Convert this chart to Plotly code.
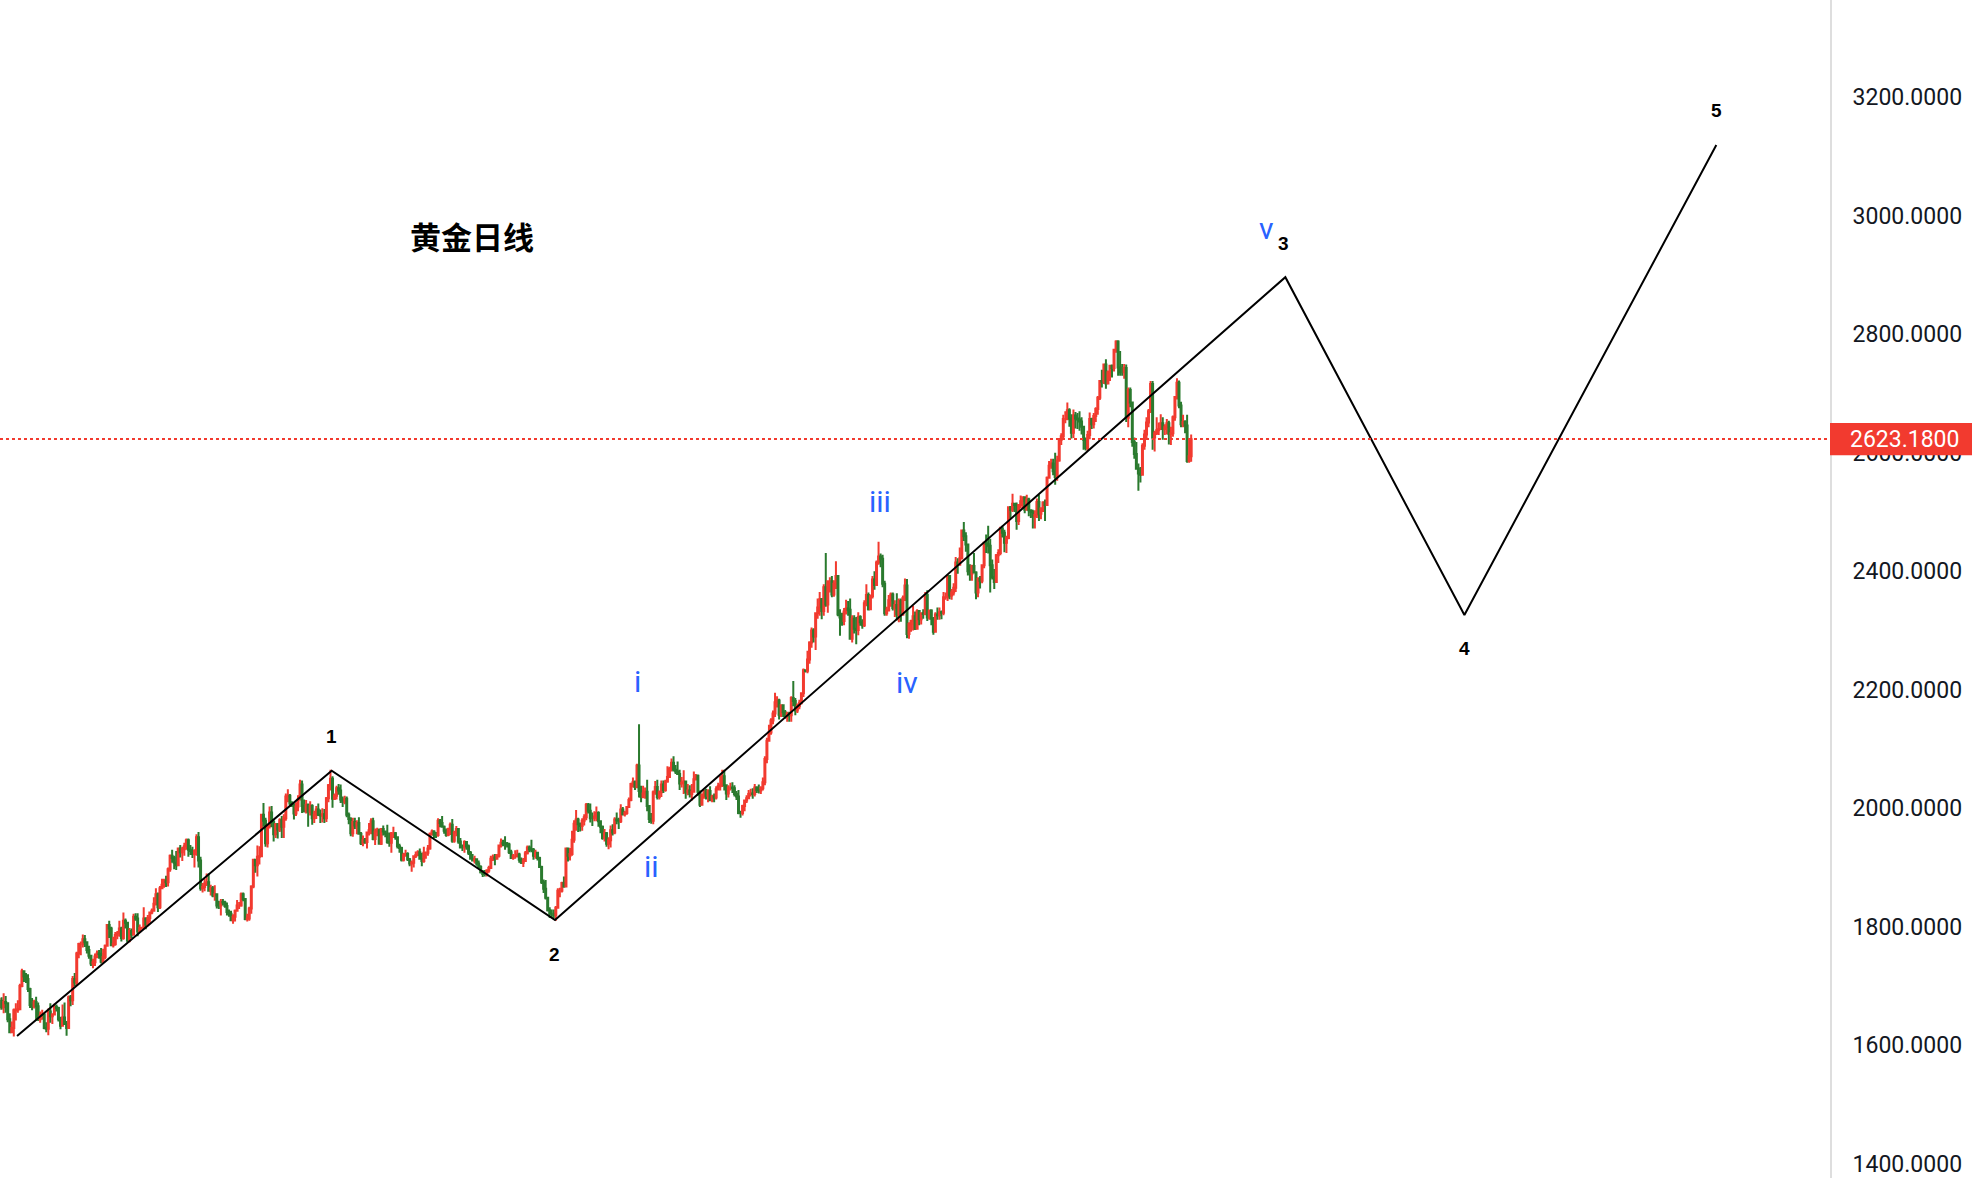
import plotly.graph_objects as go

# ---------------- data: XAUUSD daily candles (high, low, close) ----------------
first_open = 1664

sep22 = [(1678,1654,1675),(1680,1660,1675),(1681,1660,1664),(1688,1654,1673),(1683,1655,1671),
         (1672,1639,1644),(1654,1621,1622),(1640,1622,1629),(1662,1615,1659),(1671,1642,1660),(1676,1655,1661)]
oct22 = [(1704,1659,1700),(1729,1698,1725),(1726,1707,1716),(1722,1705,1712),(1720,1690,1695),
         (1697,1663,1668),(1680,1659,1666),(1677,1662,1673),(1682,1642,1666),(1672,1641,1644),
         (1657,1638,1650),(1660,1643,1652),(1653,1627,1629),(1639,1622,1628),(1662,1617,1657),
         (1671,1638,1649),(1654,1636,1652),(1670,1651,1665),(1669,1657,1663),(1665,1640,1644),(1648,1627,1633)]
nov22 = [(1669,1632,1647),(1672,1635,1636),(1641,1616,1629),(1684,1628,1681),(1685,1666,1676),
         (1717,1668,1712),(1722,1700,1706),(1758,1700,1755),(1773,1747,1771),(1775,1752,1771),
         (1787,1765,1779),(1786,1766,1774),(1775,1755,1761),(1768,1746,1751),(1752,1734,1738),
         (1746,1730,1740),(1755,1734,1750),(1760,1747,1755),(1761,1746,1754),(1764,1738,1741),
         (1763,1740,1749),(1770,1745,1768)]
dec22 = [(1804,1767,1803),(1810,1781,1797),(1800,1767,1769),(1783,1765,1771),(1791,1768,1786),
         (1793,1779,1789),(1810,1783,1797),(1800,1775,1781),(1824,1778,1810),(1814,1797,1807),
         (1808,1773,1777),(1798,1774,1793),(1797,1781,1787),(1822,1785,1817),(1823,1810,1814),
         (1823,1784,1792),(1804,1792,1798),(1800,1795,1798),(1833,1797,1814),(1816,1796,1804),
         (1820,1801,1815),(1826,1807,1824)]
jan23 = [(1831,1821,1827),(1850,1826,1839),(1865,1836,1855),(1858,1825,1833),(1869,1830,1865),
         (1881,1865,1871),(1881,1866,1877),(1886,1867,1875),(1900,1868,1897),(1922,1893,1920),
         (1930,1908,1916),(1920,1897,1908),(1928,1896,1904),(1934,1902,1932),(1938,1917,1926),
         (1935,1911,1931),(1942,1920,1936),(1949,1930,1946),(1949,1918,1930),(1938,1921,1928),
         (1935,1916,1923),(1931,1900,1928)]
feb23 = [(1956,1920,1951),(1960,1900,1912),(1918,1861,1865),(1874,1858,1867),(1881,1860,1873),
         (1890,1869,1875),(1890,1859,1861),(1871,1853,1865),(1869,1850,1853),(1870,1844,1855),
         (1856,1831,1836),(1844,1830,1836),(1847,1819,1842),(1847,1836,1841),(1844,1832,1835),
         (1841,1819,1825),(1829,1817,1822),(1827,1810,1811),(1821,1805,1817),(1829,1809,1827)]
mar23 = [(1845,1826,1836),(1842,1830,1836),(1858,1834,1855),(1858,1843,1847),(1848,1811,1813),
         (1822,1809,1814),(1834,1810,1831),(1870,1822,1868),(1914,1865,1913),(1914,1891,1904),
         (1937,1885,1918),(1936,1905,1919),(1990,1918,1989),(2009,1969,1979),(1984,1935,1941),
         (1973,1934,1970),(2003,1966,1993),(2004,1968,1977),(1981,1944,1956),(1975,1950,1973),
         (1975,1949,1964),(1983,1960,1980),(1987,1950,1969)]
apr23 = [(1990,1950,1983),(2025,1979,2020),(2032,2010,2021),(2024,2002,2008),(2012,2002,2007),
         (2008,1981,1991),(2010,1987,2003),(2022,1995,2015),(2048,2013,2040),(2047,1992,2004),
         (2015,1993,1995),(2014,1991,2006),(2008,1969,1994),(2012,1988,2004),(2007,1972,1983),
         (1996,1975,1989),(2004,1982,1998),(2008,1987,1989),(1998,1975,1988),(2000,1976,1990)]
may23 = [(1999,1975,1983),(2019,1977,2017),(2041,2010,2039),(2065,2030,2050),(2054,2001,2016),
         (2025,2014,2021),(2038,2015,2034),(2041,2023,2030),(2040,2009,2015),(2020,2002,2011),
         (2021,2007,2016),(2020,1985,1989),(1993,1973,1982),(1985,1953,1958),(1984,1952,1977),
         (1984,1965,1971),(1980,1956,1975),(1985,1957,1957),(1960,1938,1941),(1954,1936,1946),
         (1950,1940,1943),(1960,1932,1959),(1975,1954,1963)]
jun23 = [(1983,1956,1978),(1984,1946,1948),(1966,1938,1961),(1967,1953,1963),(1966,1939,1940),
         (1966,1938,1965),(1971,1954,1961),(1962,1951,1957),(1972,1940,1943),(1959,1935,1942),
         (1960,1925,1958),(1969,1950,1958),(1960,1947,1951),(1952,1932,1936),(1940,1925,1933),
         (1935,1910,1913),(1925,1910,1921),(1930,1918,1923),(1926,1911,1914),(1916,1902,1907),
         (1912,1893,1908),(1920,1900,1919)]
jul23 = [(1927,1916,1921),(1929,1919,1926),(1932,1914,1915),(1925,1902,1911),(1935,1908,1925),
         (1927,1915,1925),(1938,1920,1932),(1959,1930,1957),(1964,1954,1961),(1963,1950,1955),
         (1960,1950,1955),(1983,1952,1979),(1982,1968,1975),(1987,1967,1969),(1971,1957,1962),
         (1966,1952,1955),(1967,1953,1965),(1976,1955,1972),(1982,1942,1945),(1962,1942,1959),
         (1970,1953,1965)]
aug23 = [(1966,1940,1944),(1950,1932,1934),(1939,1928,1934),(1946,1925,1943),(1943,1930,1936),
         (1939,1921,1925),(1928,1913,1915),(1923,1910,1912),(1920,1907,1914),(1915,1903,1907),
         (1912,1899,1901),(1904,1890,1892),(1896,1884,1889),(1896,1885,1889),(1897,1885,1895),
         (1903,1891,1899),(1920,1898,1915),(1922,1911,1917),(1923,1904,1915),(1923,1914,1920),
         (1939,1917,1937),(1949,1934,1942),(1947,1936,1940)]
sep23 = [(1953,1930,1940),(1943,1934,1939),(1942,1923,1926),(1930,1915,1916),(1923,1913,1919),
         (1929,1915,1919),(1930,1917,1922),(1925,1908,1913),(1917,1906,1908),(1916,1901,1911),
         (1928,1910,1924),(1937,1922,1934),(1937,1926,1931),(1947,1926,1930),(1933,1913,1920),
         (1930,1915,1925),(1924,1912,1916),(1918,1899,1901),(1903,1872,1875),(1880,1857,1864),
         (1879,1846,1849)]
oct23 = [(1849,1826,1828),(1833,1815,1822),(1829,1815,1822),(1829,1814,1820),(1835,1810,1832),
         (1865,1832,1861),(1866,1850,1861),(1876,1858,1874),(1885,1866,1868),(1934,1867,1932),
         (1933,1910,1920),(1933,1912,1923),(1962,1920,1947),(1980,1942,1974),(1997,1962,1981),
         (1984,1960,1973),(1976,1961,1970),(1983,1962,1979),(1990,1971,1985),(2009,1980,2006),
         (2009,1991,1996),(2008,1976,1983)]
nov23 = [(1993,1970,1983),(1995,1978,1986),(2003,1978,1992),(1995,1969,1978),(1979,1958,1969),
         (1971,1947,1950),(1965,1944,1958),(1960,1935,1940),(1951,1931,1946),(1971,1934,1963),
         (1973,1954,1959),(1985,1956,1981),(1993,1973,1980),(1984,1965,1978),(2007,1975,1998),
         (2002,1988,1990),(1996,1986,1992),(2004,1989,2002),(2018,2001,2014),(2043,2012,2041),
         (2052,2035,2044),(2047,2031,2036)]
dec23 = [(2075,2034,2072),(2142,2018,2029),(2038,2010,2019),(2038,2017,2025),(2035,2016,2028),
         (2048,1995,2004),(2005,1975,1982),(1992,1974,1979),(2030,1973,2027),(2046,2023,2036),
         (2048,2015,2019),(2030,2015,2027),(2047,2019,2040),(2047,2026,2031),(2048,2028,2045),
         (2071,2043,2053),(2070,2051,2067),(2084,2062,2077),(2088,2062,2065),(2073,2058,2062)]
jan24 = [(2079,2057,2058),(2065,2031,2042),(2053,2035,2043),(2064,2024,2045),(2045,2016,2027),
         (2041,2022,2030),(2039,2018,2024),(2041,2013,2028),(2062,2027,2049),(2058,2047,2055),
         (2057,2021,2028),(2030,2002,2006),(2025,2005,2023),(2031,2016,2029),(2033,2015,2021),
         (2032,2010,2029),(2037,2012,2014),(2023,2010,2020),(2025,2010,2018),(2037,2015,2032),
         (2043,2030,2037),(2055,2030,2039)]
feb24 = [(2065,2036,2054),(2065,2030,2039),(2040,2014,2025),(2039,2018,2035),(2043,2030,2035),
         (2044,2026,2034),(2039,2020,2024),(2029,2014,2020),(2031,1990,1992),(1996,1984,1992),
         (2006,1988,2004),(2015,1995,2013),(2022,2009,2017),(2031,2016,2024),(2033,2020,2025),
         (2034,2016,2024),(2041,2020,2035),(2037,2026,2031),(2040,2025,2030),(2037,2024,2034),
         (2052,2030,2044)]
mar24 = [(2088,2039,2083),(2119,2076,2114),(2141,2113,2128),(2152,2124,2148),(2165,2142,2160),
         (2195,2154,2179),(2189,2170,2182),(2185,2150,2158),(2175,2154,2174),(2175,2154,2162),
         (2166,2151,2155),(2163,2146,2160),(2163,2146,2157),(2189,2146,2186),(2215,2172,2181),
         (2186,2157,2165),(2177,2161,2172),(2183,2167,2178),(2195,2175,2194),(2236,2188,2233),
         (2234,2229,2232)]
apr24 = [(2266,2228,2251),(2282,2244,2280),(2305,2271,2300),(2304,2280,2290),(2330,2267,2329),
         (2354,2320,2339),(2365,2325,2353),(2355,2319,2333),(2378,2325,2373),(2431,2340,2344),
         (2385,2330,2383),(2390,2364,2383),(2392,2356,2361),(2385,2357,2379),(2417,2370,2392),
         (2392,2324,2327),(2336,2291,2322),(2330,2308,2316),(2338,2309,2332),(2352,2327,2337),
         (2350,2325,2335),(2354,2285,2286)]
may24 = [(2326,2280,2320),(2326,2295,2303),(2323,2277,2301),(2331,2292,2323),(2326,2308,2314),
         (2319,2303,2309),(2351,2306,2346),(2378,2341,2360),(2364,2334,2336),(2361,2337,2358),
         (2392,2354,2386),(2400,2369,2377),(2418,2375,2415),(2450,2411,2425),(2430,2407,2421),
         (2428,2373,2379),(2384,2325,2329),(2340,2325,2334),(2360,2333,2351),(2364,2340,2361),
         (2364,2334,2338),(2351,2323,2343),(2363,2317,2327)]
jun24 = [(2354,2314,2350),(2354,2315,2327),(2359,2325,2355),(2388,2350,2376),(2387,2287,2294),
         (2314,2286,2311),(2318,2298,2316),(2342,2300,2324),(2332,2301,2303),(2336,2302,2333),
         (2334,2309,2319),(2331,2310,2329),(2336,2320,2328),(2365,2326,2360),(2368,2316,2322),
         (2335,2318,2334),(2336,2309,2320),(2323,2293,2298),(2331,2297,2327),(2339,2318,2326)]
jul24 = [(2339,2318,2331),(2334,2319,2330),(2365,2326,2356),(2364,2352,2356),(2392,2350,2392),
         (2393,2353,2359),(2370,2352,2364),(2380,2359,2372),(2424,2365,2415),(2422,2396,2411),
         (2440,2410,2422),(2469,2420,2469),(2483,2451,2459),(2466,2433,2445),(2445,2393,2400),
         (2412,2384,2396),(2411,2384,2409),(2431,2397,2398),(2400,2353,2364),(2390,2356,2387),
         (2392,2371,2384),(2412,2380,2410),(2450,2405,2448)]
aug24 = [(2462,2431,2446),(2477,2430,2443),(2455,2364,2410),(2420,2386,2390),(2404,2370,2382),
         (2429,2381,2427),(2437,2414,2431),(2475,2427,2472),(2477,2457,2465),(2470,2432,2448),
         (2460,2431,2456),(2509,2454,2508),(2510,2489,2504),(2531,2500,2514),(2514,2500,2512),
         (2516,2470,2485),(2513,2478,2512),(2528,2506,2518),(2525,2506,2525),(2526,2498,2504),
         (2529,2505,2521),(2524,2493,2503)]
sep24 = [(2504,2490,2500),(2504,2472,2493),(2503,2472,2495),(2523,2490,2517),(2529,2485,2497),
         (2508,2488,2506),(2518,2500,2516),(2521,2485,2512),(2560,2510,2558),(2586,2556,2578),
         (2590,2573,2582),(2590,2562,2569),(2600,2546,2559),(2595,2553,2587),(2625,2585,2622),
         (2633,2613,2628),(2664,2623,2657),(2670,2650,2657),(2685,2655,2672),(2675,2644,2658),
         (2665,2624,2634)]
oct24 = [(2673,2625,2663),(2669,2641,2658),(2667,2640,2656),(2670,2637,2653),(2660,2631,2644),
         (2645,2605,2622),(2626,2604,2608),(2637,2603,2630),(2668,2623,2657),(2659,2640,2648),
         (2667,2641,2662),(2677,2652,2674),(2696,2664,2693),(2723,2689,2721),(2740,2710,2720),
         (2749,2716,2749),(2758,2708,2717),(2739,2716,2736),(2748,2721,2747),(2749,2727,2743),
         (2775,2737,2774),(2790,2769,2788),(2790,2730,2744)]
nov24 = [(2772,2730,2736),(2750,2730,2736),(2750,2725,2743),(2749,2652,2659),(2710,2643,2706),
         (2710,2677,2685),(2686,2610,2618),(2626,2590,2598),(2618,2572,2573),(2582,2536,2565),
         (2576,2550,2563),(2616,2562,2612),(2639,2605,2631),(2660,2625,2651),(2674,2643,2670),
         (2721,2667,2716),(2721,2605,2626),(2637,2602,2633),(2660,2630,2638),(2651,2630,2640),
         (2665,2640,2650)]
dec24 = [(2660,2622,2640),(2648,2630,2643),(2657,2631,2650),(2654,2614,2632),(2644,2613,2633),
         (2663,2627,2660),(2695,2654,2694),(2726,2690,2718),(2722,2675,2680),(2686,2643,2648),
         (2664,2643,2652),(2655,2633,2646),(2664,2583,2586),(2625,2583,2594),(2631,2585,2623)]

last_price = 2623.18

# Elliott wave count drawn over the chart (x = trading-day index, y = price)
wave_x = [9.6, 164.6, 274.6, 634.4, 722.6, 846.7]
wave_y = [1615.7, 2063.5, 1811.5, 2896.4, 2326.2, 3119.5]

major_text = ["1", "2", "3", "4", "5"]
major_x = [164.5, 274.4, 633.7, 722.6, 846.7]
major_y = [2122, 1754, 2954, 2269, 3177]

minor_text = ["i", "ii", "iii", "iv", "v"]
minor_x = [315.4, 322.2, 434.5, 448.2, 625.1]
minor_y = [2214, 1902, 2518, 2213, 2979]

title_text = "黄金日线"
title_x, title_y = 233.5, 2966

y_ticks = [1400, 1600, 1800, 2000, 2200, 2400, 2600, 2800, 3000, 3200]

# ---------------- build ----------------
months = [sep22, oct22, nov22, dec22, jan23, feb23, mar23, apr23, may23, jun23, jul23, aug23,
          sep23, oct23, nov23, dec23, jan24, feb24, mar24, apr24, may24, jun24, jul24, aug24,
          sep24, oct24, nov24, dec24]
rows = [r for m in months for r in m]
highs = [r[0] for r in rows]
lows = [r[1] for r in rows]
closes = [r[2] for r in rows]
opens = [first_open] + closes[:-1]
xs = list(range(len(rows)))

RED = "#F23A2F"
GREEN = "#2A7A2E"
BLUE = "#2962FF"

fig = go.Figure()
fig.add_trace(go.Candlestick(
    x=xs, open=opens, high=highs, low=lows, close=closes,
    increasing=dict(line=dict(color=RED, width=2), fillcolor=RED),
    decreasing=dict(line=dict(color=GREEN, width=2), fillcolor=GREEN),
    whiskerwidth=0, hoverinfo="skip", showlegend=False,
))
fig.add_trace(go.Scatter(
    x=wave_x, y=wave_y, mode="lines",
    line=dict(color="#000000", width=2), hoverinfo="skip", showlegend=False,
))

annotations = []
for t, x, y in zip(major_text, major_x, major_y):
    annotations.append(dict(x=x, y=y, xref="x", yref="y", text=t, showarrow=False,
                            font=dict(family="Liberation Sans", size=19, color="#000000", weight=700)))
for t, x, y in zip(minor_text, minor_x, minor_y):
    annotations.append(dict(x=x, y=y, xref="x", yref="y", text=t, showarrow=False,
                            font=dict(family="Roboto", size=30, color=BLUE)))
annotations.append(dict(x=title_x, y=title_y, xref="x", yref="y", text=title_text, showarrow=False,
                        font=dict(family="Noto Sans CJK SC", size=31, color="#000000", weight=700)))
annotations.append(dict(x=1, y=last_price, xref="paper", yref="y", xanchor="left", yanchor="middle",
                        xshift=18, text=f"{last_price:.4f}", showarrow=False,
                        font=dict(family="Roboto", size=23, color="#ffffff")))

fig.update_layout(
    width=1976, height=1178,
    margin=dict(l=0, r=146, t=0, b=0),
    paper_bgcolor="#ffffff", plot_bgcolor="#ffffff",
    annotations=annotations,
    shapes=[
        dict(type="line", xref="paper", yref="y", x0=0, x1=1, y0=last_price, y1=last_price,
             line=dict(color=RED, width=2, dash="dot"), layer="above"),
        dict(type="rect", xref="paper", yref="y", x0=1.0, x1=1 + 142 / 1830,
             y0=last_price - 27.3, y1=last_price + 27.3,
             line=dict(width=0), fillcolor=RED, layer="above"),
    ],
    xaxis=dict(range=[1.2, 902.7], visible=False, rangeslider=dict(visible=False),
               showgrid=False, zeroline=False, fixedrange=True),
    yaxis=dict(range=[1376.0, 3364.2], side="right", tickvals=y_ticks, tickformat=".4f",
               showgrid=False, zeroline=False, showline=True, linecolor="#dedede", linewidth=2,
               ticks="", ticklabelstandoff=16,
               tickfont=dict(family="Roboto", size=23, color="#131722"), fixedrange=True),
    showlegend=False,
)

fig.write_html("out.html", config=dict(displayModeBar=False),
               post_script="document.body.style.margin='0';document.body.style.overflow='hidden';")
